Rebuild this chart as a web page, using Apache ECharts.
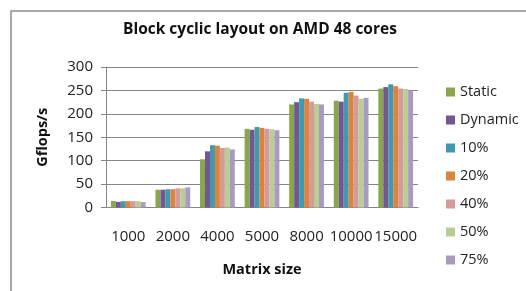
<!DOCTYPE html>
<html>
<head>
<meta charset="utf-8">
<style>
  html, body { margin: 0; padding: 0; background: #fff; }
  #chart { width: 526px; height: 291px; }
</style>
<script src="https://cdn.jsdelivr.net/npm/echarts@6/dist/echarts.min.js"></script>
</head>
<body>
<div id="chart"></div>
<script>
var categories = ['1000', '2000', '4000', '5000', '8000', '10000', '15000'];
var seriesNames = ['Static', 'Dynamic', '10%', '20%', '40%', '50%', '75%'];
var staticVals  = [14, 38, 103, 168, 220, 228, 254];
var dynamicVals = [12, 38, 120, 166, 225, 226, 257];
var p10Vals     = [13.5, 39, 133, 172, 233, 245, 263];
var p20Vals     = [13.5, 39, 132, 170, 232, 247, 259];
var p40Vals     = [13.5, 41, 127, 168, 226, 239, 254];
var p50Vals     = [13.5, 41, 128, 167, 221, 232, 253];
var p75Vals     = [11.5, 43, 124, 165, 220, 234, 250];
var yTicks = [0, 50, 100, 150, 200, 250, 300];

var allVals = [staticVals, dynamicVals, p10Vals, p20Vals, p40Vals, p50Vals, p75Vals];
var font = '"Open Sans", sans-serif';

var series = seriesNames.map(function (name, i) {
    return {
        name: name,
        type: 'bar',
        barGap: '0%',
        barCategoryGap: '22%',
        data: allVals[i]
    };
});

var option = {
    color: ['#8aa64d', '#71588f', '#4198af', '#db843d', '#d69a98', '#b9cd96', '#a99bbd'],
    backgroundColor: '#fff',
    animation: false,
    title: {
        text: 'Block cyclic layout on AMD 48 cores',
        left: 118,
        top: 17,
        textStyle: {
            fontFamily: font,
            fontSize: 15.5,
            fontWeight: 'bold',
            color: '#111'
        }
    },
    graphic: [{
        type: 'rect',
        shape: { x: 11, y: 11, width: 600, height: 400 },
        style: { fill: 'none', stroke: '#8c8c8c', lineWidth: 1.5 },
        z: -1
    }],
    legend: {
        orient: 'vertical',
        left: 441,
        top: 79,
        itemWidth: 9,
        itemHeight: 9,
        itemGap: 12,
        icon: 'rect',
        textStyle: {
            fontFamily: font,
            fontSize: 14.5,
            lineHeight: 16,
            color: '#222'
        },
        data: seriesNames
    },
    grid: {
        left: 106,
        right: 108,
        top: 67,
        bottom: 83.5
    },
    xAxis: {
        type: 'category',
        data: categories,
        name: 'Matrix size',
        nameLocation: 'middle',
        nameGap: 55,
        nameTextStyle: {
            fontFamily: font,
            fontSize: 14.5,
            fontWeight: 'bold',
            color: '#111'
        },
        axisLine: { lineStyle: { color: '#868686' } },
        axisTick: { alignWithLabel: false, length: 5, lineStyle: { color: '#868686' } },
        axisLabel: {
            interval: 0,
            margin: 22,
            fontFamily: font,
            fontSize: 15,
            color: '#222'
        }
    },
    yAxis: {
        type: 'value',
        min: 0,
        max: 300,
        interval: 50,
        name: 'Gflops/s',
        nameLocation: 'middle',
        nameGap: 56,
        nameTextStyle: {
            fontFamily: font,
            fontSize: 14.5,
            fontWeight: 'bold',
            color: '#111'
        },
        axisLine: { show: true, lineStyle: { color: '#868686' } },
        axisTick: { show: true, length: 5, lineStyle: { color: '#868686' } },
        splitLine: { lineStyle: { color: '#868686' } },
        axisLabel: {
            margin: 13,
            fontFamily: font,
            fontSize: 15,
            color: '#222',
            formatter: function (v) { return yTicks.indexOf(v) >= 0 ? String(v) : ''; }
        }
    },
    series: series
};

var myChart = echarts.init(document.getElementById('chart'));
myChart.setOption(option);
</script>
</body>
</html>
